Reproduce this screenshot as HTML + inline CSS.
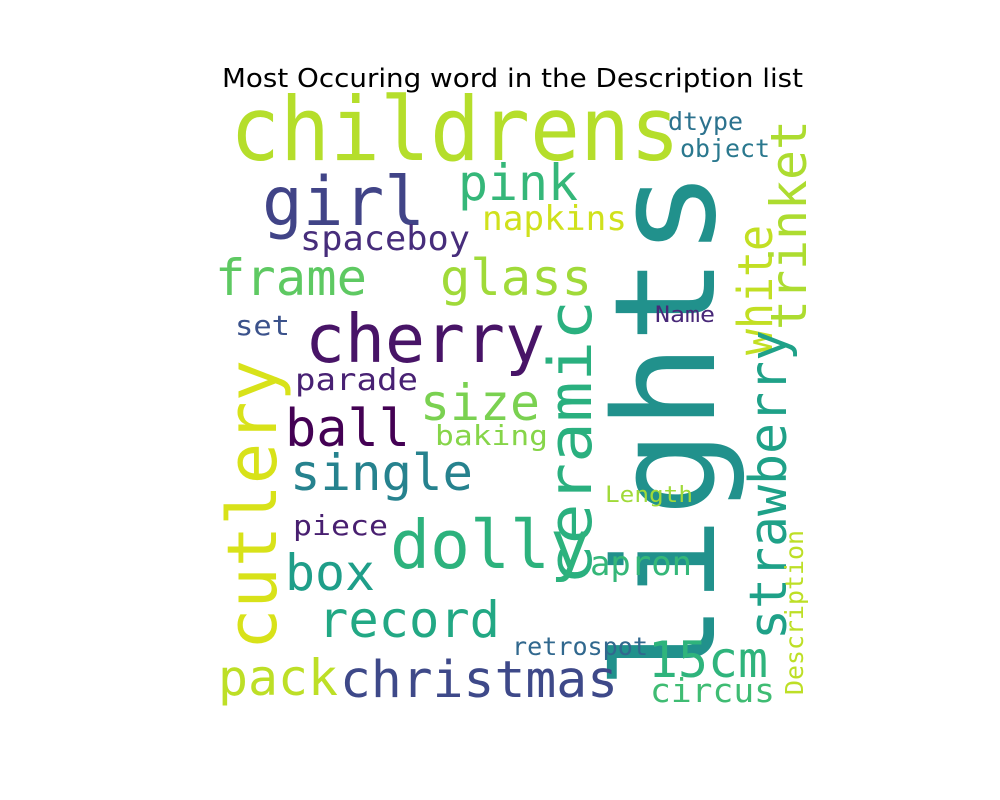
<!DOCTYPE html>
<html><head><meta charset="utf-8"><style>
html,body{margin:0;padding:0;background:#fff;width:1000px;height:800px;overflow:hidden}
svg text{font-family:"DejaVu Sans Mono","Liberation Mono",monospace}
</style></head><body>
<svg width="1000" height="800">
<text x="222" y="87" textLength="581" lengthAdjust="spacingAndGlyphs" font-size="26" fill="#000" style="font-family:'DejaVu Sans','Liberation Sans',sans-serif">Most Occuring word in the Description list</text>
<g id="cloud"></g>
</svg>
<script>
const words=["childrens","girl","pink","napkins","spaceboy","frame","glass","lights","white","trinket","cherry","ceramic","set","Name","cutlery","parade","size","ball","baking","strawberry","single","Length","dolly","piece","box","apron","Description","record","retrospot","15cm","pack","christmas","circus","dtype","object"];
const sizes=[88,68,50,34,34,50,50,140,48,50,67,60,28,22,69,30,50,52,28,52,50,22,67,28,50,34,25,50,25,50,50,51,33,25,25];
const colors=["#b5de2b","#414487","#35b779","#d0e11c","#472d7b","#5ec962","#a0da39","#21918c","#c2df23","#addc30","#481467","#2ab07f","#3b528b","#482878","#d8e219","#482173","#7ad151","#440154","#86d549","#1fa188","#26828e","#a0da39","#2db27d","#481f70","#1f9e89","#35b779","#bddf26","#22a884","#31688e","#2fb47c","#bddf26","#3e4989","#3fbc73","#2c728e","#2a788e"];
const layout=[[230,160,450,0],[262,225,163,0],[458,200,120,0],[482,230,145,0],[300,250,170,0],[215,295,152,0],[440,295,152,0],[714,690,520,1],[772,355,130,1],[806,330,210,1],[305,362,240,0],[591,585,285,1],[235,335,55,0],[655,322,60,0],[276,650,290,1],[295,390,123,0],[420,420,120,0],[285,446,125,0],[435,445,113,0],[786,640,310,1],[290,490,183,0],[605,502,88,0],[390,568,200,0],[293,535,95,0],[285,590,90,0],[590,575,102,0],[803,695,165,1],[318,637,182,0],[512,655,136,0],[648,677,120,0],[218,695,120,0],[340,697,278,0],[650,702,125,0],[668,130,75,0],[680,157,90,0]];
const g=document.getElementById('cloud');
words.forEach((w,i)=>{
  const [x,y,len,rot]=layout[i];
  const t=document.createElementNS('http://www.w3.org/2000/svg','text');
  t.setAttribute('x',x);t.setAttribute('y',y);
  t.setAttribute('font-size',sizes[i]);t.setAttribute('fill',colors[i]);
  t.setAttribute('textLength',len);t.setAttribute('lengthAdjust','spacingAndGlyphs');
  if(rot)t.setAttribute('transform','rotate(-90 '+x+' '+y+')');
  t.textContent=w;
  
  
  g.appendChild(t);
});
</script>
</body></html>
